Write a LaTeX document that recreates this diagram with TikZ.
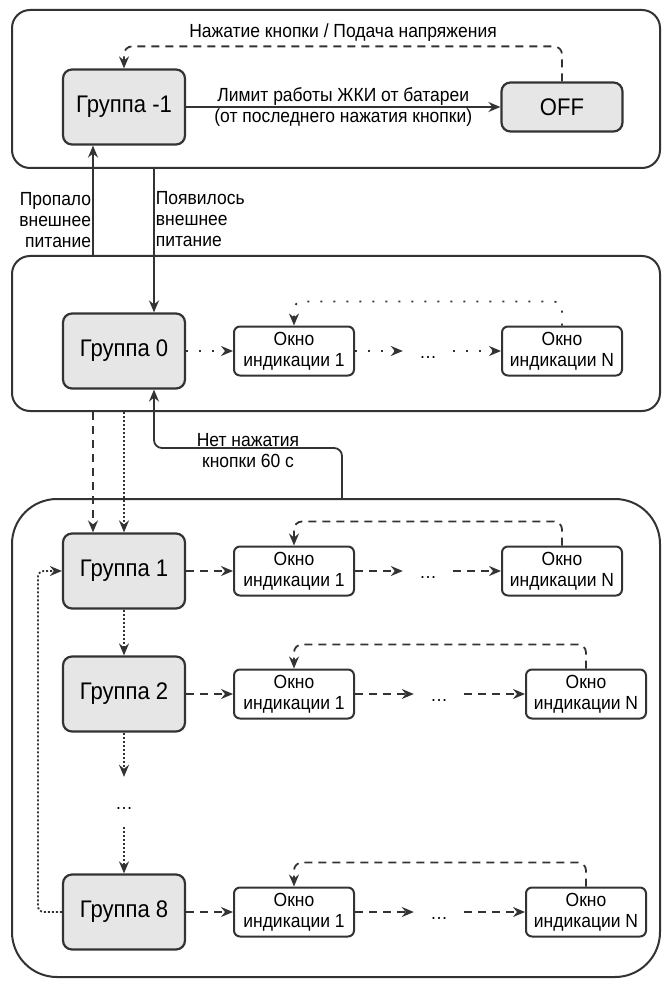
\documentclass[tikz,border=0pt]{standalone}
\usepackage{fontspec}
\setmainfont{Liberation Sans}[FakeStretch=0.92]
\usetikzlibrary{arrows.meta}
\definecolor{lc}{HTML}{333333}
\definecolor{gfill}{HTML}{E6E6E6}
\tikzset{
  grp/.style={draw=lc,fill=gfill,line width=2.2pt,rounded corners=9pt,minimum width=122pt,minimum height=75pt,inner sep=0pt,font=\fontsize{24}{28}\selectfont},
  win/.style={draw=lc,fill=white,line width=2pt,rounded corners=6pt,minimum width=120pt,minimum height=49pt,inner sep=0pt,align=center,font=\fontsize{19}{21}\selectfont},
  frame/.style={draw=lc,line width=2pt,rounded corners=18pt,inner sep=0pt},
  etc/.style={minimum width=50pt,minimum height=50pt,inner sep=0pt,text height=16pt,text depth=2pt,font=\fontsize{19}{21}\selectfont},
  lab/.style={font=\fontsize{19}{21}\selectfont},
  arr/.style={draw=lc,line width=1.8pt,-{Stealth[length=12pt,width=10pt,inset=4pt]}},
  dashedge/.style={dash pattern=on 8pt off 6pt},
  dotedge/.style={dash pattern=on 2pt off 2pt},
  sparsedot/.style={dash pattern=on 2pt off 11pt}
}
\begin{document}
\begin{tikzpicture}[x=1pt,y=-1pt]
\useasboundingbox (0,0) rectangle (662,981);
\node[frame,minimum width=648pt,minimum height=158pt] (top) at (336,89) {};
\node[frame,minimum width=648pt,minimum height=155pt] (mid) at (336,333.5) {};
\node[frame,rounded corners=45pt,minimum width=648pt,minimum height=478pt] (bot) at (336,738) {};

\node[grp] (gm1) at (124,107) {Группа -1};
\node[grp,minimum width=121pt,minimum height=49pt] (off) at (562,107) {OFF};

\node[grp] (g0) at (124,351) {Группа 0};
\node[win] (w01) at (294,351) {Окно\\индикации 1};
\node[etc] (d0) at (428,351) {…};
\node[win] (w0n) at (562,351) {Окно\\индикации N};

\node[grp] (g1) at (124,571) {Группа 1};
\node[win] (w11) at (294,571) {Окно\\индикации 1};
\node[etc] (d1) at (428,571) {…};
\node[win] (w1n) at (562,571) {Окно\\индикации N};

\node[grp] (g2) at (124,694) {Группа 2};
\node[win] (w21) at (294,694) {Окно\\индикации 1};
\node[etc] (d2) at (439,694) {…};
\node[win] (w2n) at (586,694) {Окно\\индикации N};

\node[etc] (gd) at (124,802) {…};

\node[grp] (g8) at (124,912) {Группа 8};
\node[win] (w81) at (294,912) {Окно\\индикации 1};
\node[etc] (d8) at (439,912) {…};
\node[win] (w8n) at (586,912) {Окно\\индикации N};

\draw[arr,dashedge,rounded corners=8pt] (off.north) -- ++(0,-35) -| node[lab,pos=.25,above=1pt]{Нажатие кнопки / Подача напряжения} (gm1.north);
\draw[arr] (gm1) -- node[lab,align=center]{Лимит работы ЖКИ от батареи\\(от последнего нажатия кнопки)} (off);
\draw[arr] ([xshift=-31pt]gm1.south |- mid.north) -- node[lab,pos=.32,left,inner sep=1pt,align=right]{Пропало\\внешнее\\питание} ([xshift=-31pt]gm1.south);
\draw[arr] ([xshift=30pt]g0.north |- top.south) -- node[lab,pos=.35,right,inner sep=1pt,align=left]{Появилось\\внешнее\\питание} ([xshift=30pt]g0.north);

\draw[arr,sparsedot] (g0) -- (w01);
\draw[arr,sparsedot] (w01) -- (d0);
\draw[arr,sparsedot] (d0) -- (w0n);
\draw[arr,sparsedot,rounded corners=8pt] (w0n.north) -- ++(0,-24) -| (w01.north);

\coordinate (t60) at (342,448);
\draw[arr,rounded corners=8pt] (t60 |- bot.north) -- (t60) -- node[lab,align=center,yshift=-3pt]{Нет нажатия\\кнопки 60 с} ([xshift=30pt]g0.south |- t60) -- ([xshift=30pt]g0.south);
\draw[arr,dashedge] ([xshift=-31pt]g1.north |- mid.south) -- ([xshift=-31pt]g1.north);
\draw[arr,dotedge] (g1.north |- mid.south) -- (g1.north);

\draw[arr,dashedge] (g1) -- (w11);
\draw[arr,dashedge] (w11) -- (d1);
\draw[arr,dashedge] (d1) -- (w1n);
\draw[arr,dashedge,rounded corners=8pt] (w1n.north) -- ++(0,-24) -| (w11.north);

\draw[arr,dashedge] (g2) -- (w21);
\draw[arr,dashedge] (w21) -- (d2);
\draw[arr,dashedge] (d2) -- (w2n);
\draw[arr,dashedge,rounded corners=8pt] (w2n.north) -- ++(0,-24) -| (w21.north);

\draw[arr,dashedge] (g8) -- (w81);
\draw[arr,dashedge] (w81) -- (d8);
\draw[arr,dashedge] (d8) -- (w8n);
\draw[arr,dashedge,rounded corners=8pt] (w8n.north) -- ++(0,-24) -| (w81.north);

\draw[arr,dotedge] (g1) -- (g2);
\draw[arr,dotedge] (g2) -- (gd);
\draw[arr,dotedge] (gd) -- (g8);
\draw[arr,dotedge,rounded corners=6pt] (g8.west) -- ++(-24,0) |- (g1.west);
\end{tikzpicture}
\end{document}
